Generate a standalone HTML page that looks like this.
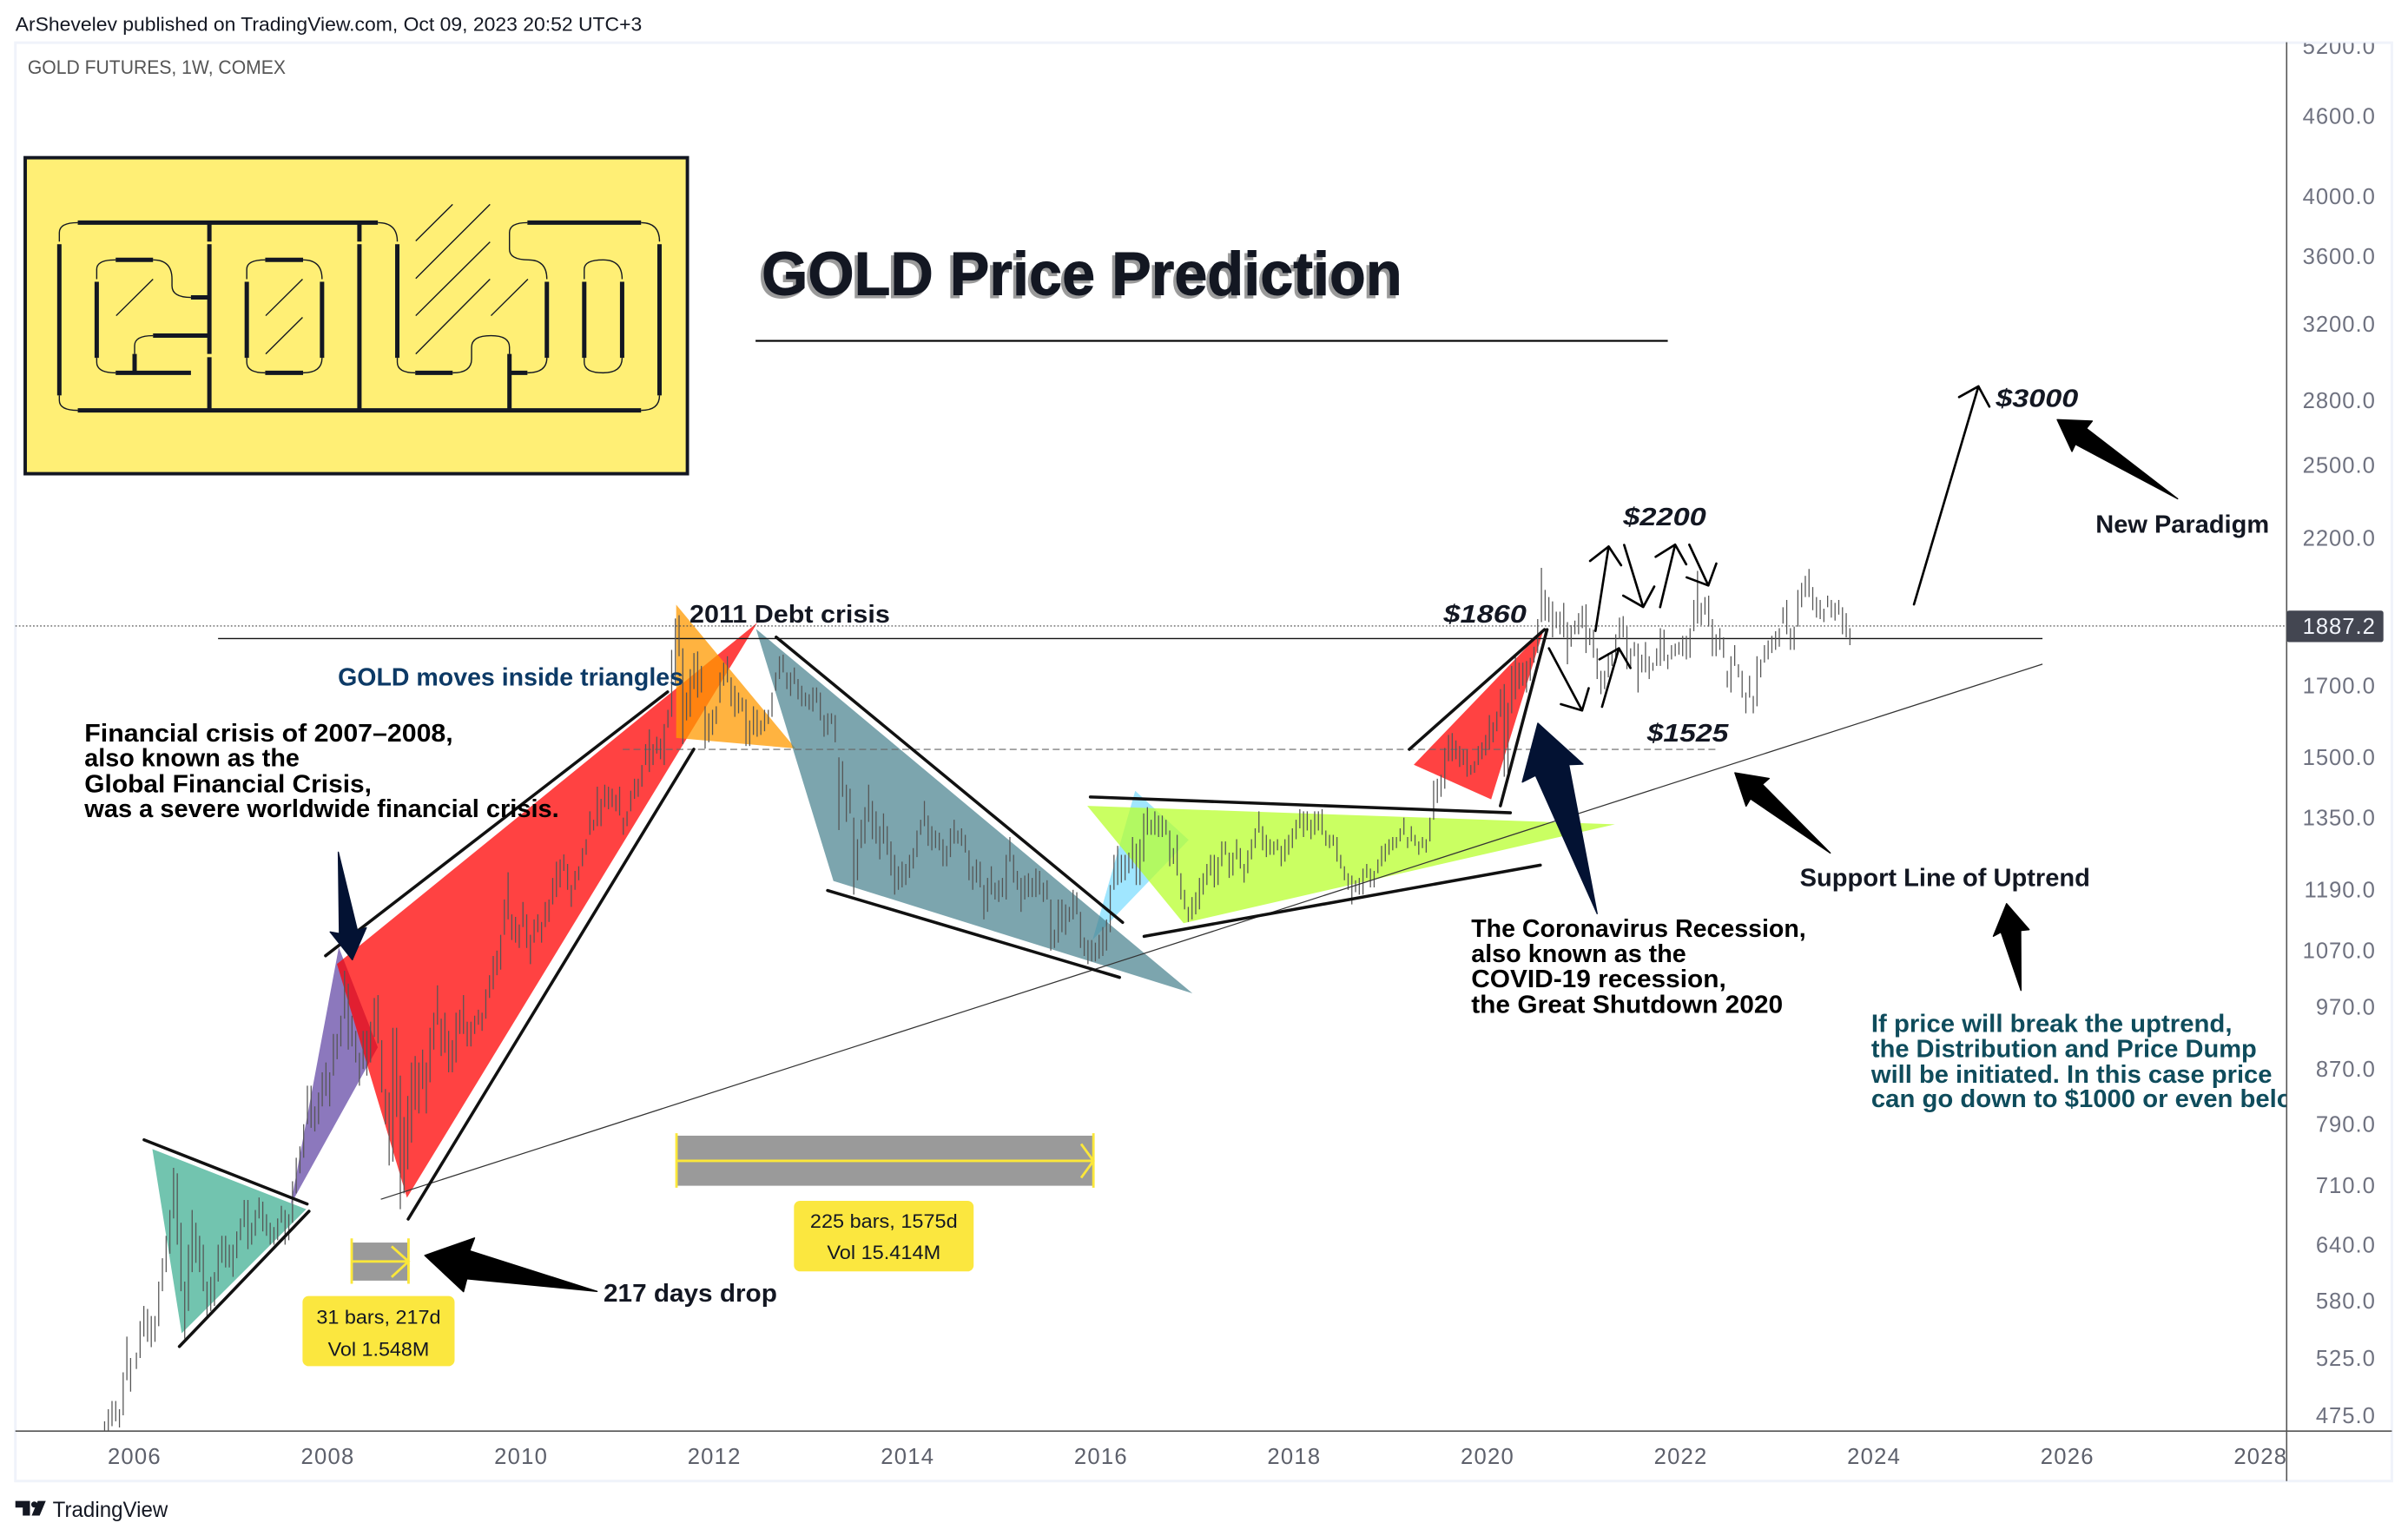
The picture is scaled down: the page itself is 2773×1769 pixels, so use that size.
<!DOCTYPE html>
<html lang="en">
<head>
<meta charset="utf-8">
<title>GOLD Price Prediction</title>
<style>
html,body{margin:0;padding:0;background:#fff;width:2773px;height:1769px;overflow:hidden}
svg{display:block}
text{font-family:"Liberation Sans",sans-serif}
.b{font-weight:700}
.ink{fill:#131722}
.price{font-weight:700;font-style:italic;font-size:16px;fill:#131722}
.ann{font-weight:700;font-size:16px}
.thin{fill:none;stroke:#000;stroke-width:1.5;stroke-linecap:round;stroke-linejoin:round}
.tl{fill:none;stroke:#111;stroke-width:2;stroke-linecap:round}
.lt{fill:none;stroke:#131722;stroke-width:5;vector-effect:non-scaling-stroke}
.ln{fill:none;stroke:#131722;stroke-width:1.4;vector-effect:non-scaling-stroke}
.ylw{fill:none;stroke:#fbe73a;stroke-width:1.6}
</style>
</head>
<body>
<svg id="chart" xmlns="http://www.w3.org/2000/svg" width="2773" height="1769" viewBox="0 0 1568 1000.3">
<defs>
<clipPath id="plot-clip"><rect x="10" y="28" width="1479" height="904"/></clipPath>
<clipPath id="axis-clip"><rect x="1489" y="28" width="68" height="904"/></clipPath>
</defs>
<rect x="0" y="0" width="1568" height="1000.3" fill="#fff"/>
<text x="10" y="20" font-size="12.6" fill="#131722" textLength="408" lengthAdjust="spacingAndGlyphs">ArShevelev published on TradingView.com, Oct 09, 2023 20:52 UTC+3</text>
<rect x="10" y="27.8" width="1547.5" height="936.7" fill="#fff" stroke="#f0f3fa" stroke-width="1.7"/>
<text x="18" y="48" font-size="12.4" fill="#555" textLength="168" lengthAdjust="spacingAndGlyphs">GOLD FUTURES, 1W, COMEX</text>

<!-- Pattern fills under the price bars -->
<g id="fills">
<polygon points="99.2,748.3 199.4,787.5 118.3,868.3" fill="#72c4af"/>
<polygon points="220.6,617 246,682 189.3,784.4" fill="#7860b2" fill-opacity=".85"/>
<polygon points="219.4,627.8 493.2,405.4 265,780" fill="#ff0000" fill-opacity=".74"/>
<polygon points="440.3,393.8 518,487.4 440.3,480.6" fill="#ff9900" fill-opacity=".75"/>
<polygon points="739.2,515 774,547 711.5,612" fill="#a0e6ff"/>
<polygon points="492.3,409.6 542.7,573.7 776.5,646.9" fill="#447f8c" fill-opacity=".7"/>
<polygon points="708,524.8 1051.6,536.8 770.7,601.2" fill="#b8ff2e" fill-opacity=".75"/>
<polygon points="1005.2,410 920.6,498 971,520.6" fill="#ff0000" fill-opacity=".74"/>
</g>

<g id="levels"></g>
<g id="bars" clip-path="url(#plot-clip)"></g>

<!-- Trend lines -->
<line x1="248" y1="781" x2="1330" y2="432.5" stroke="#333" stroke-width=".7"/>
<g>
<line class="tl" x1="93.8" y1="742.3" x2="200" y2="784.1"/>
<line class="tl" x1="116.8" y1="876.9" x2="201.2" y2="788.8"/>
<line class="tl" x1="212" y1="622.4" x2="434.7" y2="450.6"/>
<line class="tl" x1="265.8" y1="793.9" x2="451.8" y2="487.9"/>
<line class="tl" x1="505.4" y1="414.9" x2="731" y2="600.7"/>
<line class="tl" x1="538.9" y1="579.9" x2="729" y2="636.5"/>
<line class="tl" x1="710" y1="519" x2="983.5" y2="529.3"/>
<line class="tl" x1="745" y1="609.8" x2="1003" y2="563.4"/>
<line class="tl" x1="917.7" y1="488" x2="1005.7" y2="410"/>
<line class="tl" x1="977" y1="524.8" x2="1007.4" y2="410"/>
</g>

<!-- Thin path arrows -->
<g>
<path class="thin" d="M1008.6 422.2L1030.2 462.7M1016.4 458.6L1030.2 462.7L1034.5 448.2"/>
<path class="thin" d="M1043.2 460.3L1054.2 422.2M1041.5 429.4L1054.2 422.2L1061.7 435"/>
<path class="thin" d="M1038.9 410.9L1047.5 355.9M1035.4 365.3L1047.5 355.9L1055.6 368.1"/>
<path class="thin" d="M1057.6 354.9L1070 395.3M1057 387.9L1070 395.3L1077.2 382"/>
<path class="thin" d="M1081 395.4L1090.8 354.7M1078.1 362.6L1090.8 354.7L1098 367.5"/>
<path class="thin" d="M1100 354.7L1112.4 381.3M1098.3 376L1112.4 381.3L1117.6 367"/>
<path class="thin" d="M1246.3 393.6L1288.3 251.6M1275.7 258.6L1288.3 251.6L1295.4 264.8"/>
</g>

<!-- Big callout arrows -->
<g stroke-linejoin="round">
<polygon points="388.8,841 305.8,814.6 309,806.2 276.6,817.6 301.8,841.2 304,832.8" fill="#000" stroke="#000" stroke-width=".8"/>
<polygon points="220.3,555 232.7,606 238.5,604.2 229.4,625 215,606.9 221,608" fill="#031233" stroke="#031233" stroke-width=".8"/>
<polygon points="1001.4,471 1030.8,497.6 1021.5,498 1040,595 999.9,505 991.3,509.3" fill="#031233" stroke="#031233" stroke-width=".8"/>
<polygon points="1129.7,503.3 1152,507 1147.6,510.8 1191.8,555.5 1139.8,520.2 1137,525" fill="#000" stroke="#000" stroke-width=".8"/>
<polygon points="1339.6,273.3 1362.4,274.2 1358.6,279 1418,324.8 1351.4,289.3 1349.2,294" fill="#000" stroke="#000" stroke-width=".8"/>
<polygon points="1306.6,588.5 1321.3,605.4 1315.8,606 1316,645 1303,607 1298,609.7" fill="#000" stroke="#000" stroke-width=".8"/>
</g>

<!-- Range measurement tools -->
<g>
<rect x="229" y="809.2" width="37" height="24.8" fill="#9a9a9a"/>
<path class="ylw" d="M229 806.5V836M266 806.5V836M229 821.5H266M255 811.700L266 821.5L255 831.700"/>
<rect x="197" y="844" width="99" height="45.7" rx="4" fill="#fbe73f"/>
<text x="246.5" y="862" font-size="12.6" class="ink" text-anchor="middle" textLength="81" lengthAdjust="spacingAndGlyphs">31 bars, 217d</text>
<text x="246.5" y="883" font-size="12.6" class="ink" text-anchor="middle" textLength="66" lengthAdjust="spacingAndGlyphs">Vol 1.548M</text>
</g>
<g>
<rect x="441" y="739.6" width="271" height="32.6" fill="#9a9a9a"/>
<path class="ylw" d="M440.5 738V773.5M712 738V773.5M440.5 756H712M704 745L712 756L704 767"/>
<rect x="517" y="782" width="117" height="46" rx="4" fill="#fbe73f"/>
<text x="575.5" y="799.5" font-size="12.6" class="ink" text-anchor="middle" textLength="96" lengthAdjust="spacingAndGlyphs">225 bars, 1575d</text>
<text x="575.5" y="820" font-size="12.6" class="ink" text-anchor="middle" textLength="74" lengthAdjust="spacingAndGlyphs">Vol 15.414M</text>
</g>

<!-- GOLD logo -->
<g>
<rect x="16.4" y="102.7" width="431.2" height="205.8" fill="#ffef75" stroke="#131722" stroke-width="2.2"/>
<g transform="scale(0.32460,0.21640)">
<path class="lt" d="M156 670H758M1058 670H1286M156 1235H1286M232 782H307M532 782H608M383 895H420M307 1010H420M232 1122H383M532 1122H608M833 1122H908M1022 1122H1058M119 735V1190M420 670V727M420 735V1065M420 1075V1235M721 670V727M721 735V1235M194 848V1077M270 1065V1122M495 848V1077M646 848V1077M797 735V1077M1097 848V1077M1022 1065V1235M1172 848V1077M1248 848V1077M1323 735V1190"/>
<path class="ln" d="M119 727V700Q119 670 156 670M119 1190V1205Q119 1235 156 1235M758 670Q797 670 797 727M194 840V810Q194 782 232 782M307 782Q345 782 345 840V860Q345 895 383 895M270 1065V1040Q270 1010 307 1010M194 1077V1090Q194 1122 232 1122M495 840V810Q495 782 532 782M608 782Q646 782 646 840M495 1077V1090Q495 1122 532 1122M608 1122Q646 1122 646 1077M797 1077V1090Q797 1122 833 1122M908 1122Q946 1122 946 1080V1045Q946 1010 985 1010Q1022 1010 1022 1045V1065M1058 1122Q1097 1122 1097 1077M1058 670Q1022 670 1022 700V750Q1022 782 1060 782Q1097 782 1097 840M1286 670Q1323 670 1323 727M1286 1235Q1323 1235 1323 1190M1172 840V810Q1172 782 1210 782Q1248 782 1248 840M1172 1077V1090Q1172 1122 1210 1122Q1248 1122 1248 1077M233 950L307 840M533 950L607 840M533 1065L607 955M834 725L908 615M834 838L983 615M834 950L983 728M834 1065L983 840M985 950L1059 840"/>
</g>
</g>

<!-- Title -->
<text x="496" y="192" font-size="40" class="b ink" stroke="#131722" stroke-width=".5" textLength="417" lengthAdjust="spacingAndGlyphs" style="filter:drop-shadow(-1.4px 2px 0 #9a9a9a)">GOLD Price Prediction</text>
<line x1="492" y1="222" x2="1086" y2="222" stroke="#000" stroke-width="1.2"/>

<!-- Annotations -->
<text x="449" y="405.5" class="ann ink" textLength="130.500" lengthAdjust="spacingAndGlyphs">2011 Debt crisis</text>
<text x="220" y="446.5" class="ann" fill="#0d3a66" textLength="225" lengthAdjust="spacingAndGlyphs">GOLD moves inside triangles</text>
<g class="ann" fill="#000">
<text x="55" y="483" textLength="240" lengthAdjust="spacingAndGlyphs">Financial crisis of 2007–2008,</text>
<text x="55" y="499" textLength="140" lengthAdjust="spacingAndGlyphs">also known as the</text>
<text x="55" y="516" textLength="187" lengthAdjust="spacingAndGlyphs">Global Financial Crisis,</text>
<text x="55" y="532" textLength="309" lengthAdjust="spacingAndGlyphs">was a severe worldwide financial crisis.</text>
</g>
<text x="393" y="847.5" class="ann ink" textLength="113" lengthAdjust="spacingAndGlyphs">217 days drop</text>
<text x="940" y="405.5" class="price" textLength="54" lengthAdjust="spacingAndGlyphs">$1860</text>
<text x="1057" y="342" class="price" textLength="54" lengthAdjust="spacingAndGlyphs">$2200</text>
<text x="1072.500" y="483" class="price" textLength="53" lengthAdjust="spacingAndGlyphs">$1525</text>
<text x="1299.600" y="264.8" class="price" textLength="53.700" lengthAdjust="spacingAndGlyphs">$3000</text>
<text x="1364.600" y="346.8" class="ann ink" textLength="113" lengthAdjust="spacingAndGlyphs">New Paradigm</text>
<text x="1172" y="577" class="ann ink" textLength="189" lengthAdjust="spacingAndGlyphs">Support Line of Uptrend</text>
<g class="ann" fill="#000">
<text x="958" y="610" textLength="218" lengthAdjust="spacingAndGlyphs">The Coronavirus Recession,</text>
<text x="958" y="626.500" textLength="140" lengthAdjust="spacingAndGlyphs">also known as the</text>
<text x="958" y="643" textLength="166" lengthAdjust="spacingAndGlyphs">COVID-19 recession,</text>
<text x="958" y="659.500" textLength="203" lengthAdjust="spacingAndGlyphs">the Great Shutdown 2020</text>
</g>
<g class="ann" fill="#0f4c5c" clip-path="url(#plot-clip)">
<text x="1218.500" y="672" textLength="235" lengthAdjust="spacingAndGlyphs">If price will break the uptrend,</text>
<text x="1218.500" y="688.500" textLength="251" lengthAdjust="spacingAndGlyphs">the Distribution and Price Dump</text>
<text x="1218.500" y="705" textLength="261" lengthAdjust="spacingAndGlyphs">will be initiated. In this case price</text>
<text x="1218.500" y="721" textLength="287" lengthAdjust="spacingAndGlyphs">can go down to $1000 or even below</text>
</g>

<!-- Axes -->
<line x1="1489" y1="27.500" x2="1489" y2="964.500" stroke="#555" stroke-width=".9"/>
<line x1="10" y1="932" x2="1557.500" y2="932" stroke="#555" stroke-width=".9"/>
<g id="price-axis" clip-path="url(#axis-clip)"></g>
<g id="time-axis"></g>
<g id="last-price"></g>

<!-- Footer -->
<g transform="translate(0,1.8)">
<path d="M10 975.700H19.500V985.200H14.800V980H10ZM29.800 975.700L25.800 985.200H20.600L24.600 975.700Z" fill="#131722"/>
<circle cx="22.300" cy="978" r="2" fill="#131722"/>
<text x="34.300" y="986" font-size="14" fill="#131722" textLength="75" lengthAdjust="spacingAndGlyphs">TradingView</text>
</g>

<script>
// Axis tick labels
const priceTicks = [5200,4600,4000,3600,3200,2800,2500,2200,1700,1500,1350,1190,1070,970,870,790,710,640,580,525,475];
const yearTicks = [2006,2008,2010,2012,2014,2016,2018,2020,2022,2024,2026,2028];
// Reference levels
const lastPrice = [1887.2];
const resistanceLevel = [1846];
const supportLevel = [1521];
// Two-week [high, low] bars, grouped by year; first bar of 2005 starts at seriesStart
const seriesStart = [2005.69];
const bars2005 = [[470,455],[480,462],[487,466],[487,470],[480,465],[512,475],[545,505],[525,495]];
const bars2006 = [[530,515],[560,525],[575,545],[572,540],[565,535],[565,540],[600,555],[625,590],[650,610],[680,630],[732,670],[725,640],[665,590],[600,543],[640,570],[680,610],[665,620],[650,610],[640,590],[600,565],[605,570],[610,575],[640,600],[650,620],[650,615],[640,615]];
const bars2007 = [[640,605],[655,625],[670,645],[692,660],[692,635],[665,640],[680,650],[695,670],[690,655],[675,650],[665,640],[660,640],[670,645],[685,665],[680,640],[675,645],[715,665],[745,700],[760,725],[790,745],[845,790],[845,785],[815,780],[835,790],[865,815],[880,830]];
const bars2008 = [[865,815],[925,860],[925,885],[955,905],[1033,950],[1010,900],[955,905],[930,880],[895,845],[930,870],[930,860],[945,880],[985,920],[990,910],[915,835],[840,790],[835,735],[935,740],[935,800],[860,681],[800,700],[830,730],[880,765],[890,810],[880,805],[900,840]];
const bars2009 = [[880,805],[935,850],[960,900],[1007,940],[950,890],[960,895],[930,865],[915,865],[960,880],[965,925],[990,925],[945,905],[945,905],[955,925],[965,940],[960,930],[1000,950],[1025,985],[1060,1000],[1070,1025],[1100,1035],[1170,1100],[1227,1130],[1140,1090],[1135,1085],[1120,1075]];
const bars2010 = [[1165,1115],[1140,1075],[1100,1045],[1130,1085],[1140,1105],[1125,1085],[1165,1115],[1170,1125],[1215,1160],[1250,1175],[1255,1195],[1266,1230],[1245,1190],[1200,1155],[1230,1190],[1240,1210],[1280,1240],[1300,1265],[1365,1310],[1345,1320],[1425,1330],[1395,1330],[1430,1375],[1425,1370],[1420,1375],[1405,1365]];
const bars2011 = [[1425,1355],[1350,1310],[1365,1330],[1415,1365],[1445,1395],[1445,1400],[1480,1425],[1535,1480],[1575,1462],[1535,1480],[1555,1510],[1550,1495],[1590,1480],[1630,1580],[1810,1610],[1912,1700],[1923,1790],[1815,1535],[1680,1600],[1750,1610],[1800,1690],[1805,1665],[1760,1680],[1640,1523],[1620,1540],[1630,1560]];
const bars2012 = [[1640,1590],[1740,1650],[1770,1700],[1790,1710],[1725,1640],[1700,1610],[1680,1620],[1665,1625],[1660,1530],[1600,1530],[1640,1560],[1630,1555],[1600,1560],[1630,1570],[1630,1590],[1680,1610],[1740,1685],[1790,1720],[1795,1740],[1740,1690],[1740,1670],[1755,1705],[1720,1660],[1700,1640],[1680,1640],[1675,1630]];
const bars2013 = [[1695,1625],[1695,1650],[1680,1600],[1615,1555],[1620,1560],[1620,1590],[1615,1540],[1500,1321],[1490,1400],[1430,1340],[1420,1360],[1350,1180],[1300,1210],[1345,1280],[1375,1290],[1430,1340],[1390,1300],[1365,1290],[1330,1255],[1360,1290],[1330,1265],[1295,1220],[1265,1180],[1240,1190],[1250,1195],[1245,1200]];
const bars2014 = [[1265,1215],[1280,1235],[1320,1260],[1345,1310],[1390,1330],[1355,1285],[1330,1275],[1320,1280],[1315,1275],[1300,1240],[1285,1240],[1325,1260],[1345,1290],[1320,1290],[1325,1285],[1310,1270],[1275,1210],[1240,1190],[1255,1205],[1250,1195],[1200,1130],[1215,1145],[1240,1180],[1205,1170],[1210,1165],[1215,1175]];
const bars2015 = [[1265,1170],[1305,1250],[1265,1205],[1230,1190],[1215,1145],[1220,1170],[1225,1175],[1215,1175],[1235,1175],[1230,1180],[1205,1165],[1210,1170],[1170,1070],[1110,1075],[1170,1085],[1170,1105],[1160,1100],[1155,1125],[1190,1130],[1185,1140],[1145,1075],[1095,1060],[1090,1045],[1090,1050],[1085,1050],[1100,1055]];
const bars2016 = [[1115,1060],[1130,1070],[1200,1105],[1265,1190],[1285,1200],[1265,1205],[1265,1210],[1270,1225],[1305,1235],[1290,1200],[1300,1200],[1360,1250],[1375,1310],[1345,1310],[1365,1310],[1355,1305],[1355,1305],[1345,1310],[1320,1240],[1280,1245],[1310,1220],[1225,1170],[1190,1150],[1155,1125],[1175,1130],[1185,1140]];
const bars2017 = [[1215,1150],[1225,1180],[1245,1200],[1265,1220],[1265,1195],[1260,1200],[1295,1240],[1295,1265],[1270,1215],[1270,1220],[1300,1255],[1280,1235],[1245,1205],[1275,1225],[1300,1255],[1325,1280],[1365,1315],[1330,1275],[1310,1260],[1300,1265],[1295,1265],[1300,1275],[1285,1240],[1300,1250],[1310,1265],[1325,1280]];
const bars2018 = [[1345,1300],[1370,1325],[1365,1305],[1365,1320],[1345,1300],[1365,1310],[1365,1320],[1370,1310],[1320,1285],[1310,1280],[1310,1285],[1305,1250],[1265,1235],[1240,1210],[1225,1190],[1220,1160],[1210,1185],[1215,1180],[1235,1180],[1245,1215],[1235,1195],[1230,1195],[1255,1225],[1285,1240],[1290,1250],[1300,1265]];
const bars2019 = [[1305,1275],[1305,1280],[1325,1295],[1350,1310],[1305,1280],[1330,1295],[1310,1285],[1295,1265],[1305,1280],[1300,1270],[1350,1295],[1440,1345],[1445,1385],[1455,1400],[1525,1420],[1560,1490],[1565,1490],[1545,1495],[1530,1475],[1520,1480],[1520,1450],[1480,1455],[1490,1460],[1530,1480],[1540,1495],[1560,1505]];
const bars2020 = [[1615,1520],[1595,1540],[1625,1570],[1690,1610],[1705,1450],[1650,1460],[1760,1620],[1790,1660],[1770,1690],[1770,1700],[1775,1680],[1785,1715],[1820,1770],[1910,1800],[2089,1900],[2010,1905],[1985,1900],[1970,1850],[1935,1880],[1935,1860],[1965,1850],[1900,1765],[1890,1820],[1905,1860],[1930,1860],[1955,1880]];
const bars2021 = [[1960,1800],[1880,1825],[1875,1785],[1815,1720],[1745,1675],[1745,1690],[1800,1725],[1800,1760],[1860,1770],[1915,1845],[1920,1850],[1885,1750],[1815,1750],[1835,1790],[1830,1680],[1795,1740],[1835,1740],[1790,1720],[1770,1745],[1815,1760],[1880,1760],[1875,1775],[1795,1750],[1825,1780],[1830,1790],[1835,1795]];
const bars2022 = [[1855,1790],[1855,1780],[1880,1785],[1975,1870],[2078,1895],[1965,1890],[1985,1925],[1990,1885],[1910,1790],[1860,1790],[1880,1810],[1850,1785],[1745,1695],[1790,1680],[1825,1760],[1765,1725],[1745,1665],[1680,1620],[1730,1665],[1670,1620],[1790,1640],[1780,1725],[1825,1770],[1840,1780],[1855,1800],[1870,1810]];
const bars2023 = [[1880,1820],[1950,1895],[1975,1860],[1880,1810],[1885,1810],[2010,1885],[2035,1950],[2060,1985],[2085,1985],[2020,1940],[1985,1915],[1975,1910],[1945,1900],[1990,1950],[1975,1915],[1965,1905],[1975,1925],[1950,1860],[1930,1850],[1880,1825]];

const NS = 'http://www.w3.org/2000/svg';
function yScale(price){ return 30 + 372.6 * Math.log(5200 / price); }
function xScale(year){ return 87.6 + 62.93 * (year - 2006); }

const barsLayer = document.getElementById('bars');
function drawBar(year, high, low){
  const bar = document.createElementNS(NS, 'line');
  
  
  bar.setAttribute('x1', xScale(year));
  bar.setAttribute('x2', xScale(year));
  bar.setAttribute('y1', yScale(high));
  bar.setAttribute('y2', yScale(low));
  bar.setAttribute('stroke', '#555');
  bar.setAttribute('stroke-width', '0.72');
  barsLayer.appendChild(bar);
}
bars2005.forEach(function(b, i){ drawBar(seriesStart[0] + i / 26, b[0], b[1]); });
[bars2006,bars2007,bars2008,bars2009,bars2010,bars2011,bars2012,bars2013,bars2014,bars2015,bars2016,bars2017,bars2018,bars2019,bars2020,bars2021,bars2022,bars2023].forEach(function(list, k){
  list.forEach(function(b, i){ drawBar(2006 + k + (i + 0.5) / 26, b[0], b[1]); });
});

const levels = document.getElementById('levels');
function drawLevel(price, x1, x2, color, width, dash, name){
  const lvl = document.createElementNS(NS, 'line');
  
  
  lvl.setAttribute('x1', x1);
  lvl.setAttribute('x2', x2);
  lvl.setAttribute('y1', yScale(price));
  lvl.setAttribute('y2', yScale(price));
  lvl.setAttribute('stroke', color);
  lvl.setAttribute('stroke-width', width);
  if (dash) lvl.setAttribute('stroke-dasharray', dash);
  levels.appendChild(lvl);
}
drawLevel(lastPrice[0], 10, 1489, '#444', 0.6, '1 1.3', 'last-price-line');
drawLevel(resistanceLevel[0], 142, 1330, '#111', 0.8, null, 'resistance-line-1860');
drawLevel(supportLevel[0], 405.5, 1117, '#666', 0.6, '4.5 2.5', 'support-line-1525');

const priceAxis = document.getElementById('price-axis');
priceTicks.forEach(function(p){
  const label = document.createElementNS(NS, 'text');
  
  
  label.setAttribute('x', 1547);
  label.setAttribute('y', yScale(p) + 5);
  label.setAttribute('text-anchor', 'end');
  label.setAttribute('font-size', '14.5');
  label.setAttribute('letter-spacing', '0.55');
  label.setAttribute('fill', '#6f7280');
  label.textContent = p.toFixed(1);
  priceAxis.appendChild(label);
});

const timeAxis = document.getElementById('time-axis');
yearTicks.forEach(function(y){
  const label = document.createElementNS(NS, 'text');
  
  
  label.setAttribute('x', xScale(y));
  label.setAttribute('y', 953.5);
  label.setAttribute('text-anchor', 'middle');
  label.setAttribute('font-size', '14.5');
  label.setAttribute('letter-spacing', '0.7');
  label.setAttribute('fill', '#5d606b');
  label.textContent = y;
  timeAxis.appendChild(label);
});

const lastTag = document.getElementById('last-price');
const tagBox = document.createElementNS(NS, 'rect');


tagBox.setAttribute('x', 1489);
tagBox.setAttribute('y', yScale(lastPrice[0]) - 10);
tagBox.setAttribute('width', 63);
tagBox.setAttribute('height', 20.5);
tagBox.setAttribute('rx', 1.5);
tagBox.setAttribute('fill', '#434651');
lastTag.appendChild(tagBox);
const tagText = document.createElementNS(NS, 'text');


tagText.setAttribute('x', 1547);
tagText.setAttribute('y', yScale(lastPrice[0]) + 5.2);
tagText.setAttribute('text-anchor', 'end');
tagText.setAttribute('font-size', '14.5');
tagText.setAttribute('letter-spacing', '0.55');
tagText.setAttribute('fill', '#f0f3fa');
tagText.textContent = lastPrice[0].toFixed(1);
lastTag.appendChild(tagText);
</script>
</svg>
</body>
</html>
